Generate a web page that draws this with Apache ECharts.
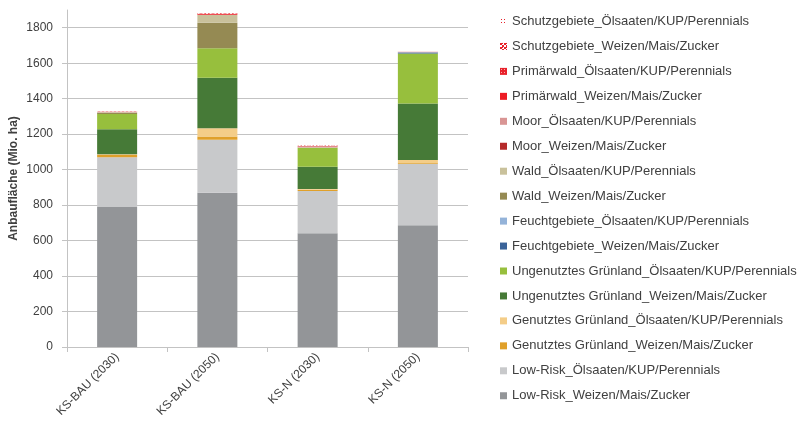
<!DOCTYPE html>
<html>
<head>
<meta charset="utf-8">
<script src="https://cdn.jsdelivr.net/npm/echarts@6/dist/echarts.min.js"></script>
<style>
  html, body { margin: 0; padding: 0; background: #fff; }
  #chart { width: 799px; height: 424px; }
</style>
</head>
<body>
<div id="chart"></div>
<script>
// Szenarien (Kategorien der x-Achse)
const categories = ['KS-BAU (2030)', 'KS-BAU (2050)', 'KS-N (2030)', 'KS-N (2050)'];

// Anbaufläche je Flächentyp und Kulturgruppe (Mio. ha), von unten nach oben gestapelt
const lowRiskWeizen        = [790, 869, 642, 687];
const lowRiskOelsaaten     = [280, 299, 237, 346];
const genutztWeizen        = [12, 19, 8, 4];
const genutztOelsaaten     = [5, 47, 4, 18];
const ungenutztWeizen      = [141, 284, 125, 318];
const ungenutztOelsaaten   = [85, 166, 107, 282];
const feuchtWeizen         = [0, 0, 0, 6];
const feuchtOelsaaten      = [0, 0, 0, 1];
const waldWeizen           = [6, 144, 0, 0];
const waldOelsaaten        = [4, 44, 2, 0];
const moorWeizen           = [0, 0, 0, 0];
const moorOelsaaten        = [3, 1, 7, 1];
const primaerWeizen        = [1, 5, 0, 0];
const primaerOelsaaten     = [1, 1, 1, 1];
const schutzWeizen         = [1, 2, 1, 1];
const schutzOelsaaten      = [2, 3, 2, 2];

// Achsenteilung
const yMin = 0;
const yMax = 1900;
const yStep = 200;
const yTickValues = [0, 200, 400, 600, 800, 1000, 1200, 1400, 1600, 1800];

// Kleine Kachelmuster für die schraffierten Flächen
function makePattern(kind) {
  const c = document.createElement('canvas');
  const ctx = c.getContext('2d');
  if (kind === 'dots') {
    c.width = 3; c.height = 3;
    ctx.fillStyle = '#ffffff'; ctx.fillRect(0, 0, 3, 3);
    ctx.fillStyle = '#e8212a'; ctx.fillRect(1, 1, 1, 1);
  } else if (kind === 'checker') {
    c.width = 4; c.height = 4;
    ctx.fillStyle = '#ffffff'; ctx.fillRect(0, 0, 4, 4);
    ctx.fillStyle = '#e8212a';
    ctx.fillRect(0, 0, 2, 2); ctx.fillRect(2, 2, 2, 2); ctx.fillRect(2, 0, 1, 1);
  } else {
    c.width = 3; c.height = 3;
    ctx.fillStyle = '#e8212a'; ctx.fillRect(0, 0, 3, 3);
    ctx.fillStyle = '#f7b3b5'; ctx.fillRect(1, 1, 1, 1);
  }
  return { image: c, repeat: 'repeat' };
}

const seriesDefs = [
  ['Low-Risk_Weizen/Mais/Zucker', lowRiskWeizen, '#939598'],
  ['Low-Risk_Ölsaaten/KUP/Perennials', lowRiskOelsaaten, '#c8c9cb'],
  ['Genutztes Grünland_Weizen/Mais/Zucker', genutztWeizen, '#e0a02a'],
  ['Genutztes Grünland_Ölsaaten/KUP/Perennials', genutztOelsaaten, '#f4cd88'],
  ['Ungenutztes Grünland_Weizen/Mais/Zucker', ungenutztWeizen, '#467a37'],
  ['Ungenutztes Grünland_Ölsaaten/KUP/Perennials', ungenutztOelsaaten, '#97bf3d'],
  ['Feuchtgebiete_Weizen/Mais/Zucker', feuchtWeizen, '#3a6399'],
  ['Feuchtgebiete_Ölsaaten/KUP/Perennials', feuchtOelsaaten, '#94b3d9'],
  ['Wald_Weizen/Mais/Zucker', waldWeizen, '#958a53'],
  ['Wald_Ölsaaten/KUP/Perennials', waldOelsaaten, '#c9c19b'],
  ['Moor_Weizen/Mais/Zucker', moorWeizen, '#b52a2a'],
  ['Moor_Ölsaaten/KUP/Perennials', moorOelsaaten, '#d99594'],
  ['Primärwald_Weizen/Mais/Zucker', primaerWeizen, '#ed1c24'],
  ['Primärwald_Ölsaaten/KUP/Perennials', primaerOelsaaten, makePattern('hatch')],
  ['Schutzgebiete_Weizen/Mais/Zucker', schutzWeizen, makePattern('checker')],
  ['Schutzgebiete_Ölsaaten/KUP/Perennials', schutzOelsaaten, makePattern('dots')]
];

const textColor = '#404040';
const gridColor = '#c3c3c3';
const fontFamily = 'Liberation Sans, Arial, sans-serif';

const chart = echarts.init(document.getElementById('chart'), null, { renderer: 'canvas' });

chart.setOption({
  animation: false,
  backgroundColor: '#ffffff',
  textStyle: { fontFamily: fontFamily },
  grid: { left: 67, right: 331, top: 10, bottom: 77, containLabel: false, outerBoundsMode: 'none' },
  legend: {
    orient: 'vertical',
    left: 500,
    top: 14.5,
    padding: 0,
    itemWidth: 7,
    itemHeight: 7,
    itemGap: 10.95,
    icon: 'rect',
    data: seriesDefs.map(d => d[0]).reverse(),
    textStyle: { color: textColor, fontSize: 13, lineHeight: 14, fontFamily: fontFamily }
  },
  xAxis: {
    type: 'category',
    data: categories,
    axisLine: { lineStyle: { color: gridColor, width: 1 } },
    axisTick: { show: true, length: 5, lineStyle: { color: gridColor } },
    axisLabel: { interval: 0, rotate: 45, color: textColor, fontSize: 12, margin: 8 }
  },
  yAxis: {
    type: 'value',
    min: yMin,
    max: yMax,
    interval: yStep,
    name: 'Anbaufläche (Mio. ha)',
    nameLocation: 'middle',
    nameGap: 47,
    nameMoveOverlap: false,
    nameTextStyle: { color: textColor, fontSize: 12, fontWeight: 'bold' },
    axisLine: { show: true, lineStyle: { color: gridColor, width: 1 } },
    axisTick: { show: true, length: 5, customValues: yTickValues, lineStyle: { color: gridColor } },
    axisLabel: {
      color: textColor, fontSize: 12, margin: 14,
      customValues: yTickValues,
      formatter: v => String(v)
    },
    splitLine: { show: true, lineStyle: { color: gridColor, width: 1 } }
  },
  series: seriesDefs.map(([name, values, color]) => ({
    name: name,
    type: 'bar',
    stack: 'total',
    barWidth: 40,
    data: values,
    itemStyle: { color: color }
  }))
});
</script>
</body>
</html>
